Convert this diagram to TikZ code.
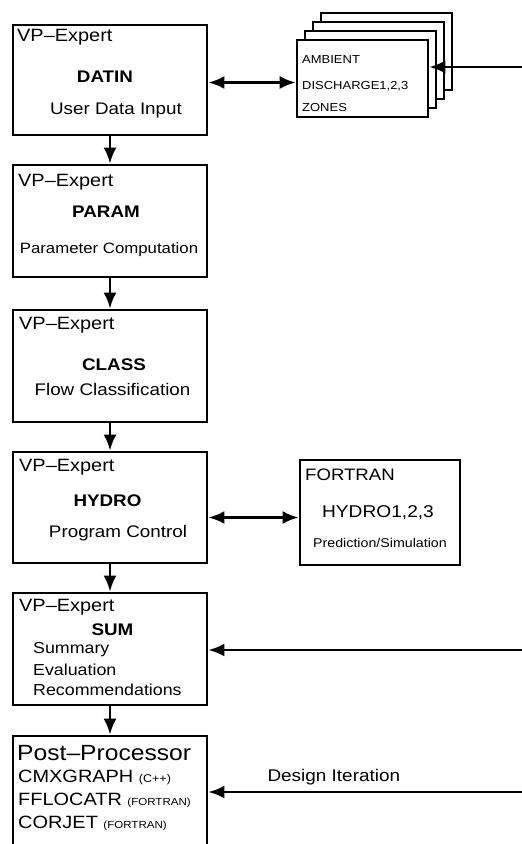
\documentclass[tikz,border=0pt]{standalone}
\usepackage{fontspec}
\setmainfont{Liberation Sans}[FakeStretch=1.12]
\usetikzlibrary{arrows.meta}
\newcommand{\setsz}[1]{\fontsize{#1}{#1}\selectfont}

\begin{document}
\begin{tikzpicture}[x=1pt, y=-1pt,
	box/.style={draw, line width=2.8pt, fill=white, minimum width=194pt},
	filebox/.style={draw, line width=2.6pt, fill=white, minimum width=131pt, minimum height=77pt},
	txt/.style={inner sep=0pt},
	boxlbl/.style={txt, anchor=west, font=\setsz{17.8}},
	boxtitle/.style={txt, font=\setsz{16.8}\bfseries},
	boxdesc/.style={txt, font=\setsz{16.8}},
	arr/.style={line width=2.6pt, -{Latex[length=16pt,width=13pt]}},
	dblarr/.style={line width=2.6pt, {Latex[length=16pt,width=13pt]}-{Latex[length=16pt,width=13pt]}}]
	\clip (0,0) rectangle (522,844);
	\fill[white] (0,0) rectangle (522,844);
	% DATIN
	\node[box, minimum height=110pt] (datin) at (110,80) {};
	\node[boxlbl] (datin-vp) at (17,37) {VP–Expert};
	\node[boxtitle] (datin-name) at (105,77) {DATIN};
	\node[boxdesc] (datin-desc) at (116,110) {User Data Input};
	% input files
	\foreach \k in {3,2,1}
		\node[filebox] (file\k) at (362.5+8*\k, 78.5-9*\k) {};
	\node[filebox] (files) at (362.5,78.5) {};
	\node[txt, anchor=west, font=\setsz{11.6}] (amb) at (302,60) {AMBIENT};
	\node[txt, anchor=west, font=\setsz{11.6}] (dis) at (302,86) {DISCHARGE1,2,3};
	\node[txt, anchor=west, font=\setsz{11.6}] (zon) at (302,108) {ZONES};
	% PARAM
	\node[box, minimum height=112pt] (param) at (110,221) {};
	\node[boxlbl] (param-vp) at (18,182) {VP–Expert};
	\node[boxtitle] (param-name) at (106,212) {PARAM};
	\node[txt, font=\setsz{15}] (param-desc) at (109,250) {Parameter Computation};
	% CLASS
	\node[box, minimum height=112pt] (class) at (110,366) {};
	\node[boxlbl] (class-vp) at (19,325) {VP–Expert};
	\node[boxtitle] (class-name) at (114,365) {CLASS};
	\node[boxdesc] (class-desc) at (112.5,389) {Flow Classification};
	% HYDRO
	\node[box, minimum height=111pt] (hydro) at (110,507.5) {};
	\node[boxlbl] (hydro-vp) at (19,467) {VP–Expert};
	\node[boxtitle] (hydro-name) at (107.5,501) {HYDRO};
	\node[boxdesc] (hydro-desc) at (118,533) {Program Control};
	% FORTRAN
	\node[draw, line width=2.8pt, minimum width=160pt, minimum height=105pt] (fortran) at (380,512.5) {};
	\node[txt, anchor=west, font=\setsz{16.6}] (fortran-lbl) at (305,475) {FORTRAN};
	\node[txt, font=\setsz{17.1}] (fortran-name) at (378,513) {HYDRO1,2,3};
	\node[txt, font=\setsz{12.7}] (fortran-desc) at (380,543) {Prediction/Simulation};
	% SUM
	\node[box, minimum height=112pt] (sum) at (110,649) {};
	\node[boxlbl] (sum-vp) at (19,607) {VP–Expert};
	\node[boxtitle] (sum-name) at (112.5,630) {SUM};
	\node[txt, anchor=west, font=\setsz{15.9}] (sum-a) at (33,650) {Summary};
	\node[txt, anchor=west, font=\setsz{15.9}] (sum-b) at (33,670) {Evaluation};
	\node[txt, anchor=west, font=\setsz{15.9}] (sum-c) at (33,690) {Recommendations};
	% Post-Processor
	\node[box, minimum height=130pt] (post) at (110,801) {};
	\node[txt, anchor=west, font=\setsz{22}] (post-lbl) at (17,753) {Post–Processor};
	\node[txt, anchor=west, font=\setsz{17.8}] (post-a) at (18,777) {CMXGRAPH {\setsz{11.2}(C++)}};
	\node[txt, anchor=west, font=\setsz{17.8}] (post-b) at (18,800) {FFLOCATR {\setsz{10.3}(FORTRAN)}};
	\node[txt, anchor=west, font=\setsz{17.8}] (post-c) at (18,823) {CORJET {\setsz{10.3}(FORTRAN)}};
	% connectors
	\draw[arr] (datin.south) -- (param.north);
	\draw[arr] (param.south) -- (class.north);
	\draw[arr] (class.south) -- (hydro.north);
	\draw[arr] (hydro.south) -- (sum.north);
	\draw[arr] (sum.south) -- (post.north);
	\coordinate (df) at ([yshift=-4pt]files.west);
	\draw[dblarr] (df -| datin.east) -- (df);
	\coordinate (hf) at ([yshift=-5pt]fortran.west);
	\draw[dblarr] (hf -| hydro.east) -- (hf);
	\coordinate (inFiles) at (522,67);
	\draw[arr] (inFiles) -- (inFiles -| files.east);
	\coordinate (fbSum) at (522,650);
	\draw[arr] (fbSum) -- (fbSum -| sum.east);
	\coordinate (fbPost) at (522,792);
	\draw[arr] (fbPost) -- (fbPost -| post.east)
		node[pos=0.6, above=2pt, font=\setsz{16.9}] (iter) {Design Iteration};
\end{tikzpicture}
\end{document}
